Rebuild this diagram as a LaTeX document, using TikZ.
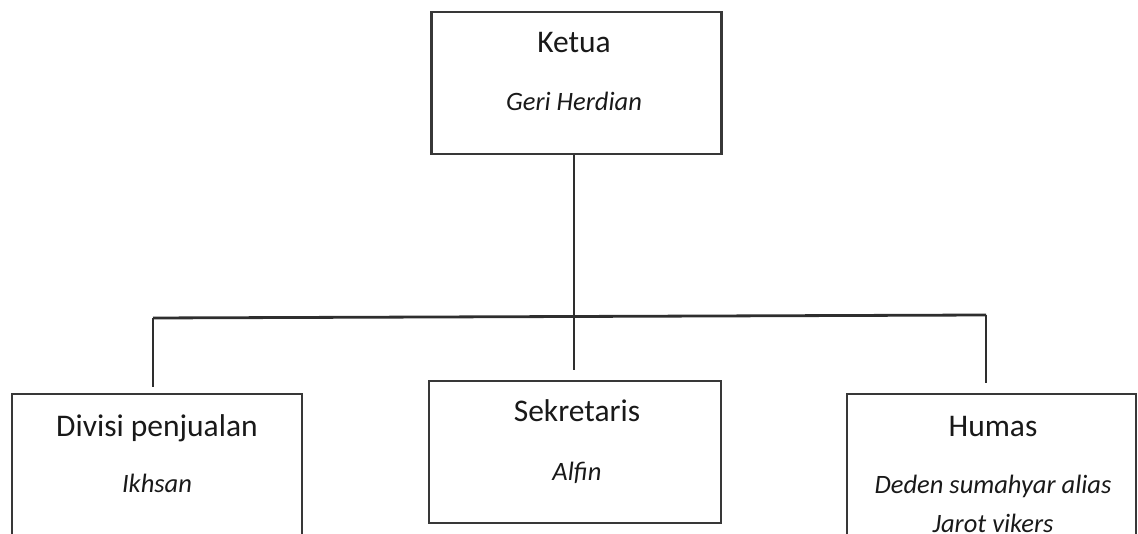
\documentclass[tikz,border=0pt]{standalone}
\usepackage{fontspec}
\setmainfont{Carlito}
\begin{document}
\begin{tikzpicture}[x=1pt,y=1pt,
  box/.style={draw=black!78,line width=2.2pt,rectangle,inner sep=0pt},
  link/.style={draw=black!82,line width=2.8pt},
  titletext/.style={anchor=base,font=\fontsize{31.5}{36}\selectfont,text=black!90,inner sep=0pt},
  nametext/.style={anchor=base,font=\fontsize{26.5}{30}\selectfont\itshape,text=black!90,inner sep=0pt}]
\useasboundingbox (0,0) rectangle (1138,534);
\clip (0,0) rectangle (1138,534);
% boxes (y measured upward: 534 - pixel row)
\node[box,minimum width=290pt,minimum height=142pt] (ketua) at (576.5,451) {};
\node[box,minimum width=290pt,minimum height=190pt] (divisi) at (157,45) {};
\node[box,minimum width=292pt,minimum height=142pt] (sekre) at (575,82) {};
\node[box,minimum width=289pt,minimum height=190pt] (humas) at (991.5,45) {};
% texts
\node[titletext] (t1) at (574,481) {Ketua};
\node[nametext] (n1) at (574,423) {Geri Herdian};
\node[titletext] (t2) at (157,97) {Divisi penjualan};
\node[nametext] (n2) at (157,41) {Ikhsan};
\node[titletext] (t3) at (577,112) {Sekretaris};
\node[nametext] (n3) at (577,53) {Alfin};
\node[titletext] (t4) at (993,97) {Humas};
\node[nametext] (n4) at (993,40) {Deden sumahyar alias};
\node[nametext] (n5) at (993,1) {Jarot vikers};
% connectors
\coordinate (busL) at (153,216);
\coordinate (busR) at (986,219);
\coordinate (busM) at (574,217.5);
\coordinate (endL) at (153,147);
\coordinate (endM) at (574,164);
\coordinate (endR) at (986,151);
\draw[link] (ketua.south -| busM) -- (busM) -- (endM);
\draw[link] (busL) -- (busM) -- (busR);
\draw[link] (busL) -- (endL);
\draw[link] (busR) -- (endR);
\end{tikzpicture}
\end{document}
